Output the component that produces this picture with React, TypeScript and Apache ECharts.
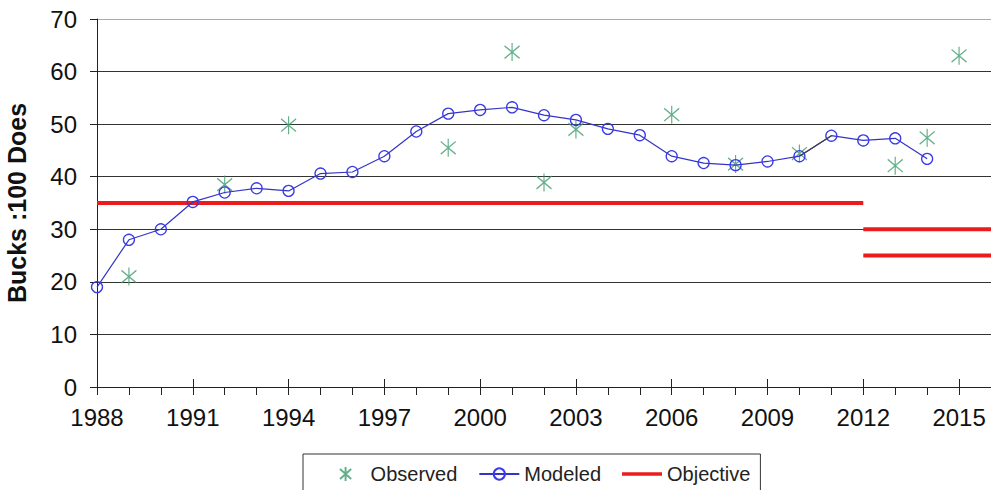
import React, { useEffect, useRef } from "react";
import * as echarts from "echarts";

const years = [
  "1988", "1989", "1990", "1991", "1992", "1993", "1994", "1995", "1996", "1997",
  "1998", "1999", "2000", "2001", "2002", "2003", "2004", "2005", "2006", "2007",
  "2008", "2009", "2010", "2011", "2012", "2013", "2014", "2015", "2016",
];

const modeled: (number | null)[] = [
  19.0, 28.0, 30.0, 35.2, 37.0, 37.8, 37.3, 40.6, 40.9, 43.9,
  48.6, 52.0, 52.7, 53.2, 51.7, 50.8, 49.1, 47.9, 43.9, 42.6,
  42.2, 42.9, 43.9, 47.8, 46.9, 47.3, 43.4, null, null,
];

const observed: (number | null)[] = [
  null, 21.0, null, null, 38.5, null, 49.8, null, null, null,
  null, 45.5, null, 63.7, 38.9, 49.0, null, null, 51.8, null,
  42.4, null, 44.4, null, null, 42.1, 47.4, 63.0, null,
];

// dark connector drawn between 2010 and 2011 in the original
const connector: (number | null)[] = years.map((_, i) =>
  i === 22 || i === 23 ? (modeled[i] as number) : null
);

const objectiveMain: (number | null)[] = years.map((_, i) => (i <= 24 ? 35 : null));
const objectiveHigh: (number | null)[] = years.map((_, i) => (i >= 24 ? 30 : null));
const objectiveLow: (number | null)[] = years.map((_, i) => (i >= 24 ? 25 : null));

const yTicks = [0, 10, 20, 30, 40, 50, 60, 70];

const FONT = "'Liberation Sans', Arial, sans-serif";
const ASTERISK = "path://M8,0L8,20M0,3L16,17M0,17L16,3";
const THICK_LINE = "path://M0,0L44,0L44,4L0,4Z";

export default function App() {
  const ref = useRef<HTMLDivElement>(null);

  useEffect(() => {
    if (!ref.current) return;
    const chart = echarts.init(ref.current, undefined, { renderer: "svg" });
    const red = "#ec1c1c";
    chart.setOption({
      animation: false,
      backgroundColor: "#ffffff",
      textStyle: { fontFamily: FONT },
      grid: {
        left: 97,
        right: 0,
        top: 19,
        bottom: 103,
        containLabel: false,
        outerBoundsMode: "none",
      },
      legend: {
        data: [
          { name: "Observed", icon: ASTERISK },
          { name: "Modeled" },
          { name: "Objective", icon: THICK_LINE },
        ],
        left: 303,
        top: 454,
        orient: "horizontal",
        padding: [10, 10, 14, 36],
        itemGap: 21,
        itemWidth: 40,
        itemHeight: 14,
        borderColor: "#333",
        borderWidth: 1,
        borderRadius: 0,
        selectedMode: false,
        textStyle: { fontSize: 20, color: "#222", fontFamily: FONT },
      },
      xAxis: [
        {
          type: "category",
          data: years,
          boundaryGap: false,
          axisLine: { lineStyle: { color: "#222", width: 1 } },
          axisTick: { show: true, interval: 0, length: 8, lineStyle: { color: "#222" } },
          axisLabel: {
            interval: (i: number) => i % 3 === 0,
            fontSize: 24,
            color: "#111",
            margin: 18,
            fontFamily: FONT,
          },
          splitLine: { show: false },
        },
        {
          type: "category",
          data: years,
          boundaryGap: false,
          position: "bottom",
          axisLine: { show: false },
          axisTick: {
            show: true,
            inside: true,
            interval: (i: number) => i % 3 === 0,
            length: 8,
            lineStyle: { color: "#222" },
          },
          axisLabel: { show: false },
          splitLine: { show: false },
        },
      ],
      yAxis: {
        type: "value",
        min: yTicks[0],
        max: yTicks[yTicks.length - 1],
        interval: 10,
        name: "Bucks :100 Does",
        nameLocation: "middle",
        nameGap: 68,
        nameTextStyle: { fontSize: 25, fontWeight: "bold", color: "#111", fontFamily: FONT },
        axisLine: { show: true, lineStyle: { color: "#222", width: 1 } },
        axisTick: { show: true, length: 7, lineStyle: { color: "#222" } },
        axisLabel: { fontSize: 24, color: "#111", margin: 20, fontFamily: FONT },
        splitLine: {
          show: true,
          lineStyle: {
            color: ["#333", "#333", "#333", "#333", "#333", "#333", "#333", "#aaa"],
            width: 1.2,
          },
        },
      },
      series: [
        {
          name: "Objective",
          type: "line",
          data: objectiveMain,
          symbol: "none",
          lineStyle: { color: red, width: 4 },
          itemStyle: { color: red },
          z: 2,
        },
        {
          name: "Objective",
          type: "line",
          data: objectiveHigh,
          symbol: "none",
          lineStyle: { color: red, width: 4 },
          itemStyle: { color: red },
          z: 2,
        },
        {
          name: "Objective",
          type: "line",
          data: objectiveLow,
          symbol: "none",
          lineStyle: { color: red, width: 4 },
          itemStyle: { color: red },
          z: 2,
        },
        {
          name: "Observed",
          type: "scatter",
          data: observed
            .map((v, i) => (v === null ? null : [i, v]))
            .filter((d) => d !== null),
          symbol: ASTERISK,
          symbolSize: [15, 18],
          itemStyle: { color: "rgba(0,0,0,0)", borderColor: "#3f9c6e", borderWidth: 1.3 },
          z: 3,
        },
        {
          name: "Modeled",
          type: "line",
          data: modeled,
          symbol: "circle",
          symbolSize: 11,
          showAllSymbol: true,
          lineStyle: { color: "#3434c8", width: 1.2 },
          itemStyle: { color: "rgba(0,0,0,0)", borderColor: "#3a3ae6", borderWidth: 1.3 },
          z: 4,
        },
        {
          name: "connector",
          type: "line",
          data: connector,
          symbol: "none",
          lineStyle: { color: "#444", width: 1.2 },
          silent: true,
          z: 5,
        },
      ],
    });
    return () => chart.dispose();
  }, []);

  return (
    <div
      ref={ref}
      style={{ position: "fixed", left: 0, top: 0, width: 991, height: 490, background: "#fff" }}
    />
  );
}
